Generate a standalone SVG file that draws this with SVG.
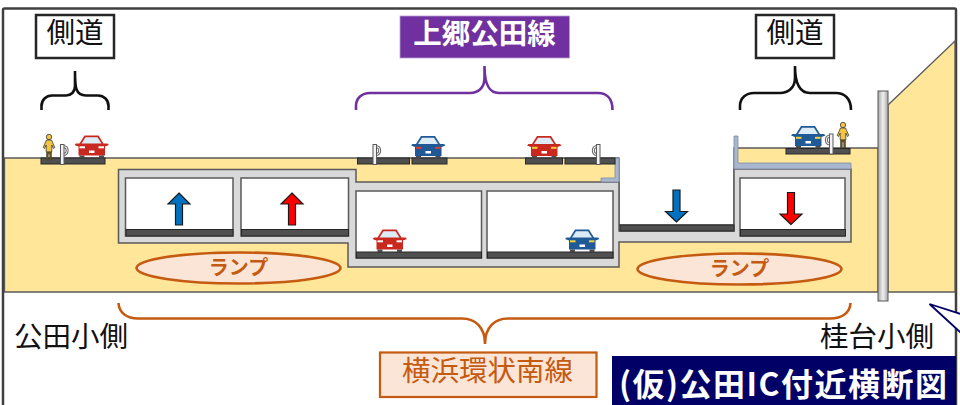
<svg xmlns="http://www.w3.org/2000/svg" xmlns:xlink="http://www.w3.org/1999/xlink" width="960" height="405" viewBox="0 0 960 405">
<style>
text{font-family:"Noto Sans CJK JP","Noto Sans",sans-serif;text-anchor:middle}
.lbl{fill:#111;font-size:28.5px}
.box{fill:#fff;stroke:#262626;stroke-width:2.5}
.brace{fill:none;stroke-width:2.6;stroke-linecap:butt}
.road{fill:#505050;stroke:#262626;stroke-width:1}
.cell{fill:#fff;stroke:#595959;stroke-width:1.5}
.wall{fill:#A9B7CE;stroke:#7F8CA3;stroke-width:.8}
.ramp{fill:#FBE5D6;stroke:#C55A11;stroke-width:2.6}
.rt{fill:#C55A11;font-size:20px;font-weight:700}
.arr{stroke:#1a1a1a;stroke-width:1.2;stroke-linejoin:miter}
.red{color:#C9281F}.blue{color:#1F5A96}
.lampY{--l:#F2D13C}.lampR{--l:#E23B30}.lampW{--l:#fff}
.body{fill:currentColor}
</style>
<defs>
<linearGradient id="pole" x1="0" x2="1" y1="0" y2="0"><stop offset="0" stop-color="#a6a6a6"/><stop offset=".5" stop-color="#f0f0f0"/><stop offset="1" stop-color="#a6a6a6"/></linearGradient>
<g id="car">
<path class="body" d="M10 0H24L29 8H33L34.500 9.500L30.500 11V20H4V11L0 9.500L1.500 8H5Z"/>
<path d="M11 1.800H23L27 8H7Z" fill="#DDEBF7"/>
<rect x="5" y="10.800" width="5.500" height="2" style="fill:var(--l)"/>
<rect x="24" y="10.800" width="5.500" height="2" style="fill:var(--l)"/>
<rect x="14.500" y="15" width="5.500" height="2.500" fill="#fff"/>
<path d="M5 20H10V22.500H5ZM24.500 20H29.500V22.500H24.500Z" fill="#4a4a4a"/>
</g>
<g id="person">
<circle cx="6" cy="3" r="2.700" fill="#F4C542" stroke="#3a3a3a" stroke-width=".8"/>
<path d="M3.500 6H8.500L11.800 13.500L10.500 14.500L8.800 11V18H3.200V11L1.500 14.500L.2 13.500Z" fill="#F4C542" stroke="#3a3a3a" stroke-width=".8"/>
<path d="M3.500 18H8.500V26H6.700V20H5.300V26H3.500Z" fill="#6B5310" stroke="#3a3a3a" stroke-width=".5"/>
</g>
<g id="rail">
<rect x="0" y="0" width="3.500" height="20" fill="#f2f2f2" stroke="#595959" stroke-width="1"/>
<path d="M3.500 1C9 2 9 10 3.500 11M3.500 3C6.500 4 6.500 8 3.500 9" fill="none" stroke="#6a6a6a" stroke-width="1.100"/>
</g>
</defs>
<rect width="960" height="405" fill="#fff"/>
<rect id="frame" x="3" y="8.500" width="953" height="420" rx="1.500" fill="#fff" stroke="#404040" stroke-width="2.500"/>

<g id="ground" fill="#FFE699" stroke="#595959" stroke-width="1.300">
<path d="M4.500 158H619V225H734V148H878V292H4.500Z"/>
<path d="M888 105L955 41V292H888Z"/>
</g>

<g id="structure">
<path d="M118.500 169.500H356V182H619V231H734V169H851V242H619V267H348V243H118.500Z" fill="#D9D9D9" stroke="#595959" stroke-width="1.500"/>
<rect class="cell" x="125.500" y="178" width="107.500" height="58"/>
<rect class="cell" x="241" y="178" width="107.500" height="58"/>
<rect class="cell" x="356" y="191" width="125.500" height="67"/>
<rect class="cell" x="487" y="191" width="126" height="67"/>
<rect class="cell" x="740" y="178" width="105" height="58"/>
<rect class="road" x="126" y="229.500" width="107" height="6.500"/>
<rect class="road" x="241.500" y="229.500" width="107" height="6.500"/>
<rect class="road" x="356.500" y="252" width="125" height="6"/>
<rect class="road" x="487.500" y="252" width="125.500" height="6"/>
<rect class="road" x="740.500" y="229.500" width="105" height="6.500"/>
<rect class="road" x="620" y="225" width="114" height="6"/>
<path class="wall" d="M615 158H619V182H601V178H615Z"/>
<path class="wall" d="M734 136H738V163H851V169H734Z"/>
<rect x="878" y="91" width="10" height="210" fill="url(#pole)" stroke="#595959" stroke-width="1"/>
</g>

<g id="surface-roads">
<rect class="road" x="41" y="158" width="64" height="6"/>
<rect class="road" x="357.500" y="158" width="52" height="6"/>
<rect class="road" x="412" y="158" width="35" height="6"/>
<rect class="road" x="525.500" y="158" width="37" height="6"/>
<rect class="road" x="565" y="158" width="50" height="6"/>
<rect class="road" x="786" y="148.500" width="64" height="5.500"/>
<use xlink:href="#rail" x="60.500" y="144.500"/>
<use xlink:href="#rail" transform="translate(373,144.500)"/>
<use xlink:href="#rail" transform="translate(600,144.500) scale(-1,1)"/>
<use xlink:href="#rail" transform="translate(833,134) scale(-1,1)"/>
<use xlink:href="#person" x="43" y="134"/>
<use xlink:href="#person" x="837" y="122"/>
</g>

<g id="cars">
<use xlink:href="#car" class="red lampW" x="74.500" y="135.500"/>
<use xlink:href="#car" class="blue lampR" x="411" y="136"/>
<use xlink:href="#car" class="red lampY" x="527" y="136"/>
<use xlink:href="#car" class="blue lampY" x="791" y="126"/>
<use xlink:href="#car" class="red lampW" x="372.500" y="229.500"/>
<use xlink:href="#car" class="blue lampY" x="565" y="229.500"/>
</g>

<g id="arrows">
<path class="arr" fill="#0070C0" d="M179 193L190 204H182.500V225H175.500V204H168Z"/>
<path class="arr" fill="#FF0000" d="M292 193L303 204H295.500V225H288.500V204H281Z"/>
<path class="arr" fill="#0070C0" d="M676.500 222L665.500 211.500H673V190H680V211.500H687.500Z"/>
<path class="arr" fill="#FF0000" d="M791 224.500L780 214H787.500V192.500H794.500V214H802Z"/>
</g>

<g id="ramp-left"><ellipse class="ramp" cx="238.500" cy="268" rx="102" ry="15.500"/><text class="rt" x="238.500" y="275">ランプ</text></g>
<g id="ramp-right"><ellipse class="ramp" cx="739.500" cy="269" rx="102" ry="15.500"/><text class="rt" x="739.500" y="276">ランプ</text></g>

<g id="connectors">
<path class="brace" stroke="#111" d="M41.500 110V106C41.500 100 46 95.500 52 95.500H66C71 95.500 75 92 75 86V71C75 86 75 95.500 86 95.500H98C104 95.500 108.500 100 108.500 106V110"/>
<path class="brace" stroke="#7030A0" d="M356 110V106C356 98 362 93 370 93H470C478 93 484.500 88 484.500 78V66C484.500 88 491 93 499 93H598C606 93 612.500 98 612.500 110"/>
<path class="brace" stroke="#111" d="M740 110V106C740 98 746 93 754 93H780C788 93 795 88 795 78V66C795 88 802 93 810 93H836C844 93 851 98 851 110"/>
<path class="brace" stroke="#C55A11" d="M118.500 303C119 313 127 318.500 138 318.500H462C475 318.500 485 327 485 344C485 327 495 318.500 508 318.500H830C842 318.500 850 313 850.500 303"/>
<path d="M961 314L929.500 304L961 333" fill="#fff" stroke="#000066" stroke-width="1.800"/>
</g>

<g id="label-left"><rect class="box" x="36" y="15" width="78" height="43"/><text class="lbl" x="75" y="42.500">側道</text></g>
<g id="label-right"><rect class="box" x="756" y="15" width="78" height="43"/><text class="lbl" x="795" y="42.500">側道</text></g>
<g id="label-kamigo"><rect x="400" y="16" width="169.500" height="42" fill="#7030A0" stroke="#B9A0D5" stroke-width=".8"/><text x="484.500" y="44" font-size="28.500" font-weight="700" fill="#fff">上郷公田線</text></g>
<g id="label-yokohama"><rect x="380" y="352.500" width="216.500" height="44.500" fill="#FBE5D6" stroke="#C55A11" stroke-width="2.200"/><text x="487.500" y="380.500" font-size="28.500" fill="#C55A11">横浜環状南線</text></g>
<g id="label-kuden"><text class="lbl" x="71" y="347">公田小側</text></g>
<g id="label-katsura"><text class="lbl" x="877" y="347">桂台小側</text></g>
<g id="title"><rect x="612" y="356" width="344" height="50" fill="#000066"/><text x="783" y="396" font-size="32" font-weight="700" fill="#fff" textLength="328" lengthAdjust="spacing">(仮)公田IC付近横断図</text></g>
</svg>
